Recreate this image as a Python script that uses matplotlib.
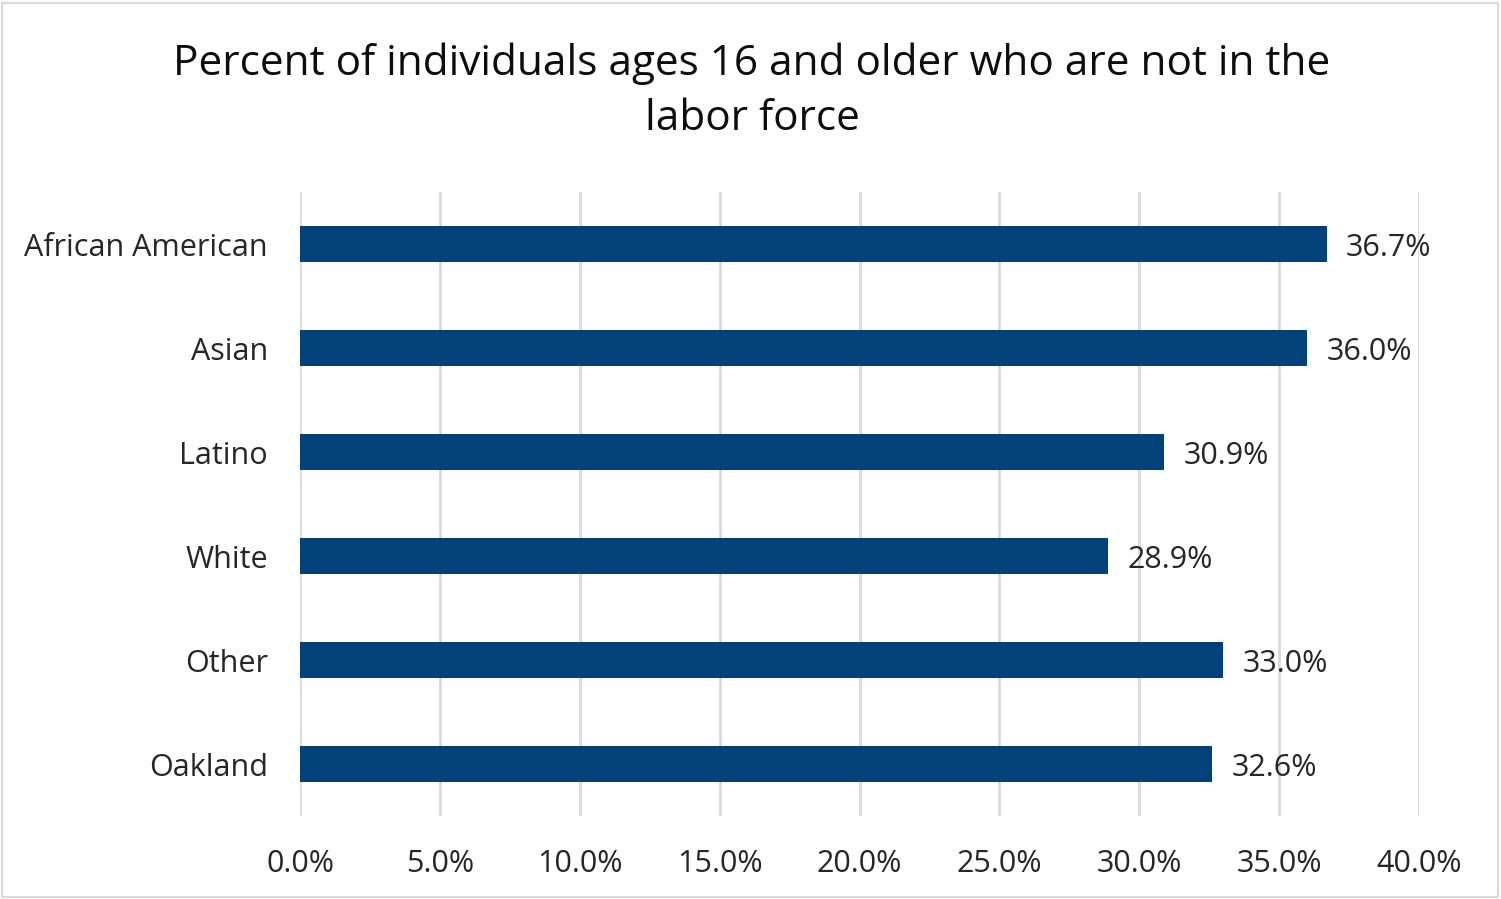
import matplotlib
matplotlib.use("Agg")
import matplotlib.pyplot as plt
from matplotlib.patches import Rectangle
from matplotlib.ticker import FuncFormatter, MultipleLocator

categories = ["African American", "Asian", "Latino", "White", "Other", "Oakland"]
values = [36.7, 36.0, 30.9, 28.9, 33.0, 32.6]
title = "Percent of individuals ages 16 and older who are not in the\nlabor force"

plt.rcParams['font.family'] = ['Open Sans', 'DejaVu Sans']

W, H = 1501, 899
fig = plt.figure(figsize=(W / 100, H / 100), dpi=100)
ax = fig.add_axes([300 / W, (H - 816) / H, (1419 - 300) / W, (816 - 192) / H])

ypos = list(range(len(categories)))
ax.barh(ypos, values, height=0.35, color="#02427A", zorder=3)
ax.set_ylim(len(categories) - 0.5, -0.5)
ax.set_xlim(0, 40)
ax.xaxis.set_major_locator(MultipleLocator(5))
ax.xaxis.set_major_formatter(FuncFormatter(lambda v, p: f"{v:.1f}%"))
ax.set_yticks(ypos)
ax.set_yticklabels(categories)
ax.tick_params(axis='both', length=0, labelsize=22, colors="#262626")
ax.tick_params(axis='y', pad=23)
ax.tick_params(axis='x', pad=24)
ax.grid(axis='x', color="#D9D9D9", linewidth=2, zorder=0)
for s in ax.spines.values():
    s.set_visible(False)

for y, v in zip(ypos, values):
    ax.annotate(f"{v:.1f}%", (v, y), xytext=(14, -3), textcoords='offset points',
                va='center', ha='left', fontsize=22, color="#262626")

fig.text(752 / W, 1 - 91 / H, title, ha='center', va='center', fontsize=30.4,
         color="#0D0D0D", linespacing=1.42)

fig.patches.append(Rectangle((2 / W, 2 / H), (W - 5) / W, (H - 5) / H,
                             transform=fig.transFigure, fill=False,
                             edgecolor="#D9D9D9", linewidth=1.5))

fig.savefig("out.png", dpi=100, facecolor="white")
